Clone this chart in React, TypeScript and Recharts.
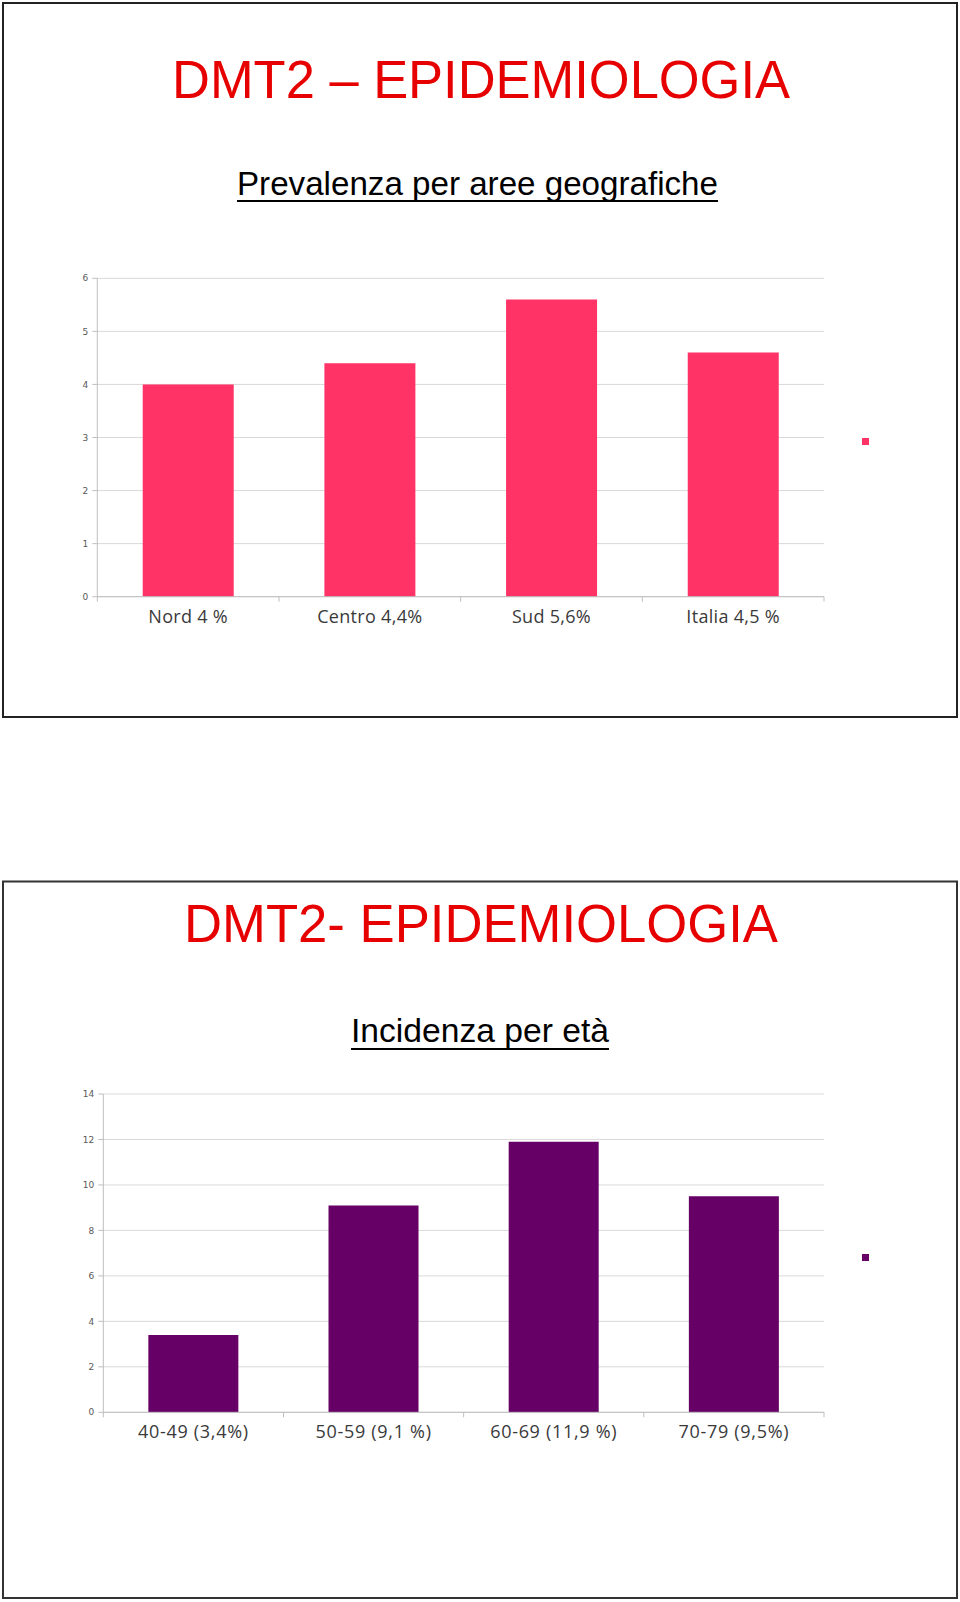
import React from 'react';
import { BarChart, Bar, XAxis, YAxis, CartesianGrid, Legend } from 'recharts';

// ---- Data ----
const regionCategories = ['Nord 4 %', 'Centro 4,4%', 'Sud 5,6%', 'Italia 4,5 %'];
const regionValues = [4.0, 4.4, 5.6, 4.6];
const regionTicks = [0, 1, 2, 3, 4, 5, 6];

const ageCategories = ['40-49 (3,4%)', '50-59 (9,1 %)', '60-69 (11,9 %)', '70-79 (9,5%)'];
const ageValues = [3.4, 9.1, 11.9, 9.5];
const ageTicks = [0, 2, 4, 6, 8, 10, 12, 14];

const titleTop = 'DMT2 – EPIDEMIOLOGIA';
const subtitleTop = 'Prevalenza per aree geografiche';
const titleBottom = 'DMT2- EPIDEMIOLOGIA';
const subtitleBottom = 'Incidenza per età';

const regionData = regionCategories.map((label, i) => ({ label, value: regionValues[i] }));
const ageData = ageCategories.map((label, i) => ({ label, value: ageValues[i] }));

const AXIS = '#BFBFBF';
const GRID = '#D9D9D9';

const makeXTick = (letterSpacing: number) => (props: any) => {
  const { x, y, payload, index, visibleTicksCount, width } = props;
  const half = payload && payload.offset ? payload.offset : width / visibleTicksCount / 2;
  const isLast = index === visibleTicksCount - 1;
  return (
    <g>
      <line x1={x - half} x2={x - half} y1={y} y2={y + 5} stroke={AXIS} />
      {isLast && <line x1={x + half} x2={x + half} y1={y} y2={y + 5} stroke={AXIS} />}
      <text
        x={x}
        y={y + 26}
        textAnchor="middle"
        fontFamily="'Open Sans', sans-serif"
        fontSize={18}
        letterSpacing={letterSpacing}
        fill="#3a3a3a"
      >
        {payload.value}
      </text>
    </g>
  );
};

const LegendSquare = (p: any) => {
  const c = p && p.payload && p.payload[0] ? p.payload[0].color : '#000';
  return <div style={{ width: 7, height: 7, background: c }} />;
};

function Panel(props: {
  data: any[];
  ticks: number[];
  color: string;
  top: number;
  mTop: number;
  mBottom: number;
  mLeft: number;
  legendTop: number;
  spacing: number;
}) {
  const { data, ticks, color, top, mTop, mBottom, mLeft, legendTop, spacing } = props;
  const max = ticks[ticks.length - 1];
  const Tick = makeXTick(spacing);
  return (
    <div style={{ position: 'absolute', left: 0, top, width: 960, height: 400 }}>
      <BarChart
        width={960}
        height={400}
        data={data}
        margin={{ top: mTop, right: 136, bottom: mBottom, left: mLeft }}
        barCategoryGap="25%"
      >
        <CartesianGrid vertical={false} stroke={GRID} />
        <XAxis
          dataKey="label"
          height={30}
          interval={0}
          tickSize={0}
          tickMargin={0}
          tickLine={false}
          axisLine={{ stroke: AXIS }}
          tick={<Tick />}
        />
        <YAxis
          width={40}
          domain={[0, max]}
          ticks={ticks}
          interval={0}
          tickSize={5}
          tickMargin={4}
          axisLine={{ stroke: AXIS }}
          tickLine={{ stroke: AXIS }}
          tick={{ fontSize: 9, fontFamily: "'DejaVu Sans', sans-serif", fill: '#595959' }}
        />
        <YAxis
          yAxisId="r"
          orientation="right"
          width={0}
          domain={[0, max]}
          tick={false}
          tickLine={false}
          axisLine={{ stroke: GRID }}
        />
        <Legend
          layout="vertical"
          align="center"
          verticalAlign="middle"
          wrapperStyle={{ left: 862, top: legendTop, width: 7, height: 7, lineHeight: 0 }}
          content={LegendSquare}
        />
        <Bar dataKey="value" fill={color} isAnimationActive={false} />
      </BarChart>
    </div>
  );
}

export default function App() {
  const font = "'Liberation Sans', Arial, sans-serif";
  return (
    <div style={{ position: 'absolute', left: 0, top: 0, width: 960, height: 1602, background: '#fff' }}>
      <svg width={960} height={1602} style={{ position: 'absolute', left: 0, top: 0 }}>
        <rect x={3} y={3} width={954} height={714} fill="none" stroke="#222" strokeWidth={2} />
        <rect x={3} y={881.5} width={954} height={716.5} fill="none" stroke="#333" strokeWidth={2} />
        <text x={481} y={97.7} textAnchor="middle" fontFamily={font} fontSize={54} fill="#E60000"
          textLength={618} lengthAdjust="spacingAndGlyphs">{titleTop}</text>
        <text x={477.5} y={195} textAnchor="middle" fontFamily={font} fontSize={33} fill="#000"
          textLength={481} lengthAdjust="spacingAndGlyphs">{subtitleTop}</text>
        <line x1={237} x2={718} y1={201} y2={201} stroke="#000" strokeWidth={2} />
        <text x={481} y={941.7} textAnchor="middle" fontFamily={font} fontSize={54} fill="#E60000"
          textLength={594} lengthAdjust="spacingAndGlyphs">{titleBottom}</text>
        <text x={480} y={1042} textAnchor="middle" fontFamily={font} fontSize={33} fill="#000"
          textLength={258} lengthAdjust="spacingAndGlyphs">{subtitleBottom}</text>
        <line x1={351} x2={609} y1={1049} y2={1049} stroke="#000" strokeWidth={2} />
      </svg>
      <Panel data={regionData} ticks={regionTicks} color="#FF3366" top={260} mTop={18.3} mBottom={33.3} mLeft={57.3} legendTop={178} spacing={0.3} />
      <Panel data={ageData} ticks={ageTicks} color="#660066" top={1070} mTop={24} mBottom={27.7} mLeft={63.3} legendTop={184} spacing={0.7} />
    </div>
  );
}
